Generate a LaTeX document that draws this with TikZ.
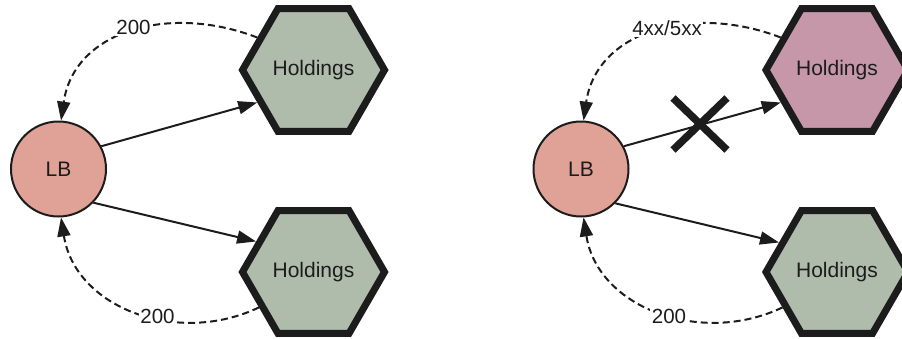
\documentclass[tikz,border=0pt]{standalone}
\usepackage{fontspec}
\setmainfont{Liberation Sans}
\usetikzlibrary{shapes.geometric,arrows.meta}
\definecolor{lbfill}{HTML}{E0A296}
\definecolor{hgreen}{HTML}{AFBCAB}
\definecolor{hmauve}{HTML}{C597A8}
\definecolor{ink}{HTML}{1C1C1C}
\tikzset{
  hexnode/.style={regular polygon, regular polygon sides=6, minimum size=142pt, inner sep=0pt,
    draw=ink, line width=7pt, text=ink, font=\fontsize{21}{24}\selectfont},
  lbnode/.style={circle, minimum size=95pt, inner sep=0pt, draw=ink, line width=2pt, fill=lbfill,
    text=ink, font=\fontsize{21}{24}\selectfont},
  callarrow/.style={draw=ink, line width=2pt, -{Triangle[length=19pt,width=13pt]}},
  replyarrow/.style={draw=ink, line width=2pt, dash pattern=on 7pt off 4pt,
    -{Triangle[length=19pt,width=13pt]}},
  codelabel/.style={fill=white, inner sep=1.5pt, text=ink, text depth=0pt,
    font=\fontsize{20.5}{23}\selectfont},
  crossbar/.style={draw=ink, line width=7.5pt, line cap=butt}
}
\begin{document}
\begin{tikzpicture}[x=1pt,y=-1pt]
  \useasboundingbox (0,0) rectangle (902,338);
  \clip (0,0) rectangle (902,338);
  % left panel
  \node[lbnode] (lb1) at (58.5,169) {LB};
  \node[hexnode, fill=hgreen] (h1) at (313.5,70) {Holdings};
  \node[hexnode, fill=hgreen] (h2) at (313.5,272) {Holdings};
  \draw[callarrow] (lb1.28) -- (h1.210);
  \draw[callarrow] (lb1.-44) -- (h2.152);
  \draw[replyarrow] (h1.150) .. controls +(-88,-34) and +(13,-90) .. (lb1.87);
  \draw[replyarrow] (h2.213) .. controls +(-82,39) and +(14,90) .. (lb1.273);
  \node[codelabel] (l1) at (133.5,27.5) {200};
  \node[codelabel] (l2) at (157.5,316.5) {200};
  % right panel
  \node[lbnode] (lb2) at (581,169) {LB};
  \node[hexnode, fill=hmauve] (h3) at (837,70) {Holdings};
  \node[hexnode, fill=hgreen] (h4) at (837,272) {Holdings};
  \draw[callarrow] (lb2.28) -- (h3.210);
  \draw[callarrow] (lb2.-45) -- (h4.153);
  \draw[replyarrow] (h3.150) .. controls +(-88,-34) and +(13,-90) .. (lb2.87);
  \draw[replyarrow] (h4.213) .. controls +(-82,39) and +(14,90) .. (lb2.273);
  \node[codelabel] (l3) at (667,28.5) {4xx/5xx};
  \node[codelabel] (l4) at (669,316) {200};
  \coordinate (xc) at (700,124);
  \draw[crossbar] ([shift={(-27,-26)}]xc) -- ([shift={(27,26)}]xc);
  \draw[crossbar] ([shift={(27,-26)}]xc) -- ([shift={(-27,26)}]xc);
\end{tikzpicture}
\end{document}
